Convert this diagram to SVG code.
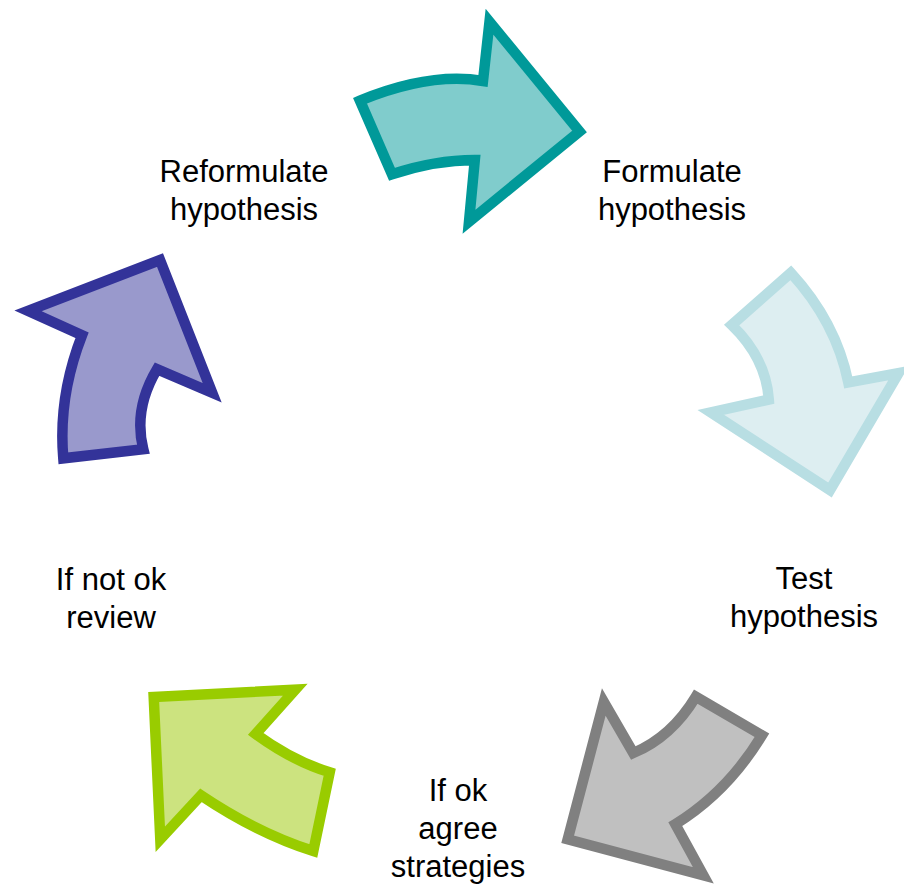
<svg xmlns="http://www.w3.org/2000/svg" width="904" height="887" viewBox="0 0 904 887">
<style>
.arrow{stroke-width:10.5;stroke-linejoin:miter;stroke-miterlimit:10}
.lbl{font-family:"Liberation Sans",Arial,sans-serif;font-size:31px;fill:#000;text-anchor:middle}
</style>
<rect width="904" height="887" fill="#fff"/>
<g id="connectors">
<g id="arrow-formulate">
<path class="arrow" fill="#80CCCC" stroke="#009999" d="M360,100.7 Q430,72 483,81 L489.5,21.7 L579.5,131.5 L469,221.7 L474.8,160 Q435,160 392,174.3 Z"/>
</g>
<g id="arrow-test">
<path class="arrow" fill="#DDEEF1" stroke="#B8DEE3" d="M790.8,272.8 Q836,322 848.3,382.5 L898.7,373 L830,490 L710.8,412.5 L768.8,399.5 Q766,358 731.7,325 Z"/>
</g>
<g id="arrow-agree">
<path class="arrow" fill="#C0C0C0" stroke="#808080" d="M695.8,696.7 Q671.5,737 633.3,753 L603.8,702 L567.7,839.2 L703.3,875.3 L675.3,824.2 Q727.3,792.2 762,735.3 Z"/>
</g>
<g id="arrow-review">
<path class="arrow" fill="#CCE37F" stroke="#99CC00" d="M153.7,697 L295.3,689.7 L255.7,734 Q292.7,761 329.7,772.3 L313.3,851 Q257,833 201,795.3 L160.3,839.3 Z"/>
</g>
<g id="arrow-reformulate">
<path class="arrow" fill="#9999CC" stroke="#333399" d="M28,310.8 L160,260 L212.2,392.8 L157,369.2 Q133.2,409.2 143.3,449.2 L63.3,458.3 Q58,396.8 82,335.3 Z"/>
</g>
</g>
<g id="node-reformulate">
<text class="lbl" x="244" y="182">Reformulate</text>
<text class="lbl" x="244" y="220">hypothesis</text>
</g>
<g id="node-formulate">
<text class="lbl" x="672" y="182">Formulate</text>
<text class="lbl" x="672" y="220">hypothesis</text>
</g>
<g id="node-test">
<text class="lbl" x="804" y="589">Test</text>
<text class="lbl" x="804" y="627">hypothesis</text>
</g>
<g id="node-agree">
<text class="lbl" x="458" y="801">If ok</text>
<text class="lbl" x="458" y="839">agree</text>
<text class="lbl" x="458" y="877">strategies</text>
</g>
<g id="node-review">
<text class="lbl" x="111" y="590">If not ok</text>
<text class="lbl" x="111" y="628">review</text>
</g>
</svg>
